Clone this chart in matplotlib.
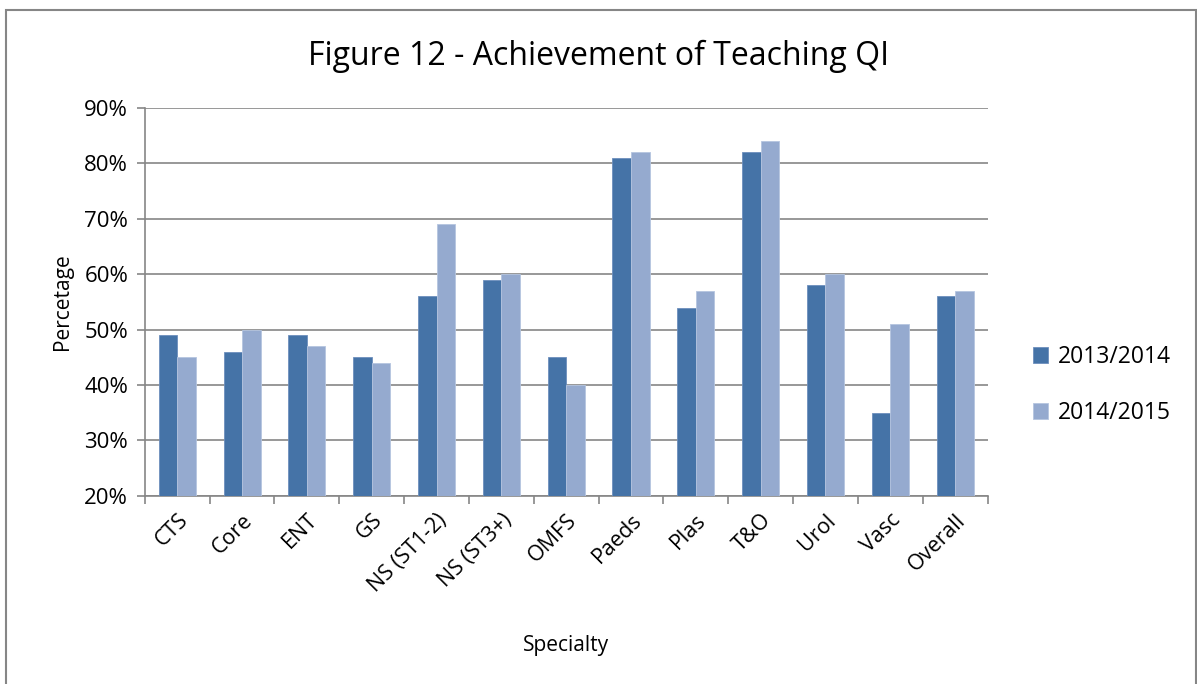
import matplotlib
matplotlib.use("Agg")
import matplotlib.pyplot as plt
import numpy as np
from matplotlib.patches import Rectangle
from matplotlib.ticker import FixedLocator, PercentFormatter

categories = ["CTS", "Core", "ENT", "GS", "NS (ST1-2)", "NS (ST3+)", "OMFS",
              "Paeds", "Plas", "T&O", "Urol", "Vasc", "Overall"]
s2013 = [49, 46, 49, 45, 56, 59, 45, 81, 54, 82, 58, 35, 56]
s2014 = [45, 50, 47, 44, 69, 60, 40, 82, 57, 84, 60, 51, 57]
series_names = ["2013/2014", "2014/2015"]

plt.rcParams['font.family'] = ['Open Sans', 'DejaVu Sans']

fig = plt.figure(figsize=(11.97, 6.84), dpi=100)
ax = fig.add_axes([0.121, 0.275, 0.704, 0.567])

x = np.arange(len(categories))
w = 0.286
c1, c2 = "#4573A7", "#95AACF"
ax.bar(x - w/2, s2013, w, bottom=0, color=c1, edgecolor="#6d8fbd", linewidth=0.6,
       label=series_names[0], zorder=3)
ax.bar(x + w/2, s2014, w, bottom=0, color=c2, edgecolor="#b5c5e0", linewidth=0.6,
       label=series_names[1], zorder=3)

ax.set_ylim(20, 90)
ax.set_xlim(-0.5, len(categories) - 0.5)
ax.set_yticks(np.arange(20, 91, 10))
ax.yaxis.set_major_formatter(PercentFormatter(decimals=0))
ax.grid(axis="y", color="#868686", linewidth=1.2, zorder=0)
ax.set_xticks(x)
ax.set_xticklabels(categories, rotation=45, ha="right", rotation_mode="anchor", fontsize=15.5)
ax.tick_params(axis="x", which="major", length=0, pad=10)
ax.xaxis.set_minor_locator(FixedLocator(np.arange(-0.5, len(categories), 1)))
ax.tick_params(axis="x", which="minor", length=6, color="#868686", width=1.2)
ax.tick_params(axis="y", length=6, color="#868686", width=1.2, labelsize=16, pad=6)
for s in ["top", "right"]:
    ax.spines[s].set_visible(False)
for s in ["left", "bottom"]:
    ax.spines[s].set_color("#868686")
    ax.spines[s].set_linewidth(1.2)

ax.set_ylabel("Percetage", fontsize=15, labelpad=8)
ax.set_xlabel("Specialty", fontsize=15, labelpad=28)
fig.text(0.50, 0.918, "Figure 12 - Achievement of Teaching QI", ha="center", va="center",
         fontsize=23)

leg = ax.legend(loc="center left", bbox_to_anchor=(1.03, 0.286), frameon=False,
                fontsize=16.5, handlelength=0.65, handleheight=0.65, labelspacing=1.4,
                handletextpad=0.4)

fig.patches.append(Rectangle((0.0054, -0.02), 0.9938, 1.006, transform=fig.transFigure,
                             fill=False, edgecolor="#868686", linewidth=1.5))

fig.savefig("out.png", dpi=100)
